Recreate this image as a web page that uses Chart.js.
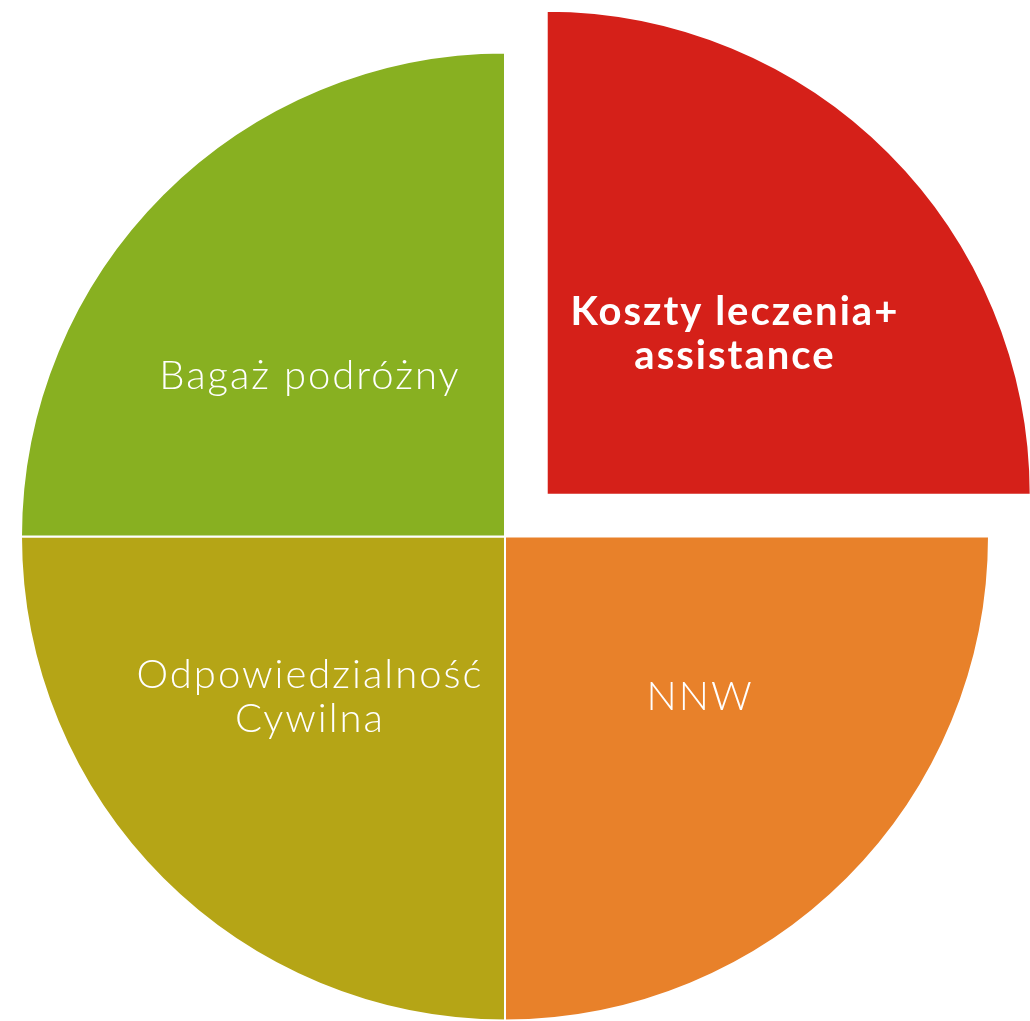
<!DOCTYPE html>
<html>
<head>
<meta charset="utf-8">
<script src="https://cdn.jsdelivr.net/npm/chart.js@4/dist/chart.umd.min.js"></script>
<style>
    html, body { margin: 0; padding: 0; background: #ffffff; }
    canvas { display: block; }
</style>
</head>
<body>
<canvas id="pieChart" width="1030" height="1021"></canvas>
<script>
// Pie data - four equal parts, first one pulled out
const categories = [['Koszty leczenia+', 'assistance'], ['NNW'], ['Odpowiedzialność', 'Cywilna'], ['Bagaż podróżny']];
const values = [25, 25, 25, 25];
const sliceColors = ['#D52019', '#E8812A', '#B5A516', '#88B021'];
const sliceOffsets = [236, 0, 0, 0];
const boldLabels = [true, false, false, false];

// Labels inside the slices
const sliceLabels = {
    id: 'sliceLabels',
    afterDatasetsDraw(chart) {
        const ctx = chart.ctx;
        const meta = chart.getDatasetMeta(0);
        meta.data.forEach((arc, i) => {
            const p = arc.getProps(['x', 'y', 'startAngle', 'endAngle', 'outerRadius']);
            const mid = (p.startAngle + p.endAngle) / 2;
            const shift = sliceOffsets[i] / 4;
            const cx = p.x + Math.cos(mid) * shift;
            const cy = p.y + Math.sin(mid) * shift;
            const lx = cx + Math.cos(mid) * p.outerRadius * (boldLabels[i] ? 0.55 : 0.57);
            const ly = cy + Math.sin(mid) * p.outerRadius * 0.47;
            const lines = categories[i];
            const lineHeight = 44;
            ctx.save();
            ctx.fillStyle = '#ffffff';
            ctx.textAlign = 'center';
            ctx.textBaseline = 'middle';
            ctx.font = boldLabels[i] ? 'bold 40px Lato' : '300 40px Lato';
            ctx.letterSpacing = '2px';
            lines.forEach((line, j) => {
                ctx.fillText(line, lx, ly + (j - (lines.length - 1) / 2) * lineHeight);
            });
            ctx.restore();
        });
    }
};

const ctx = document.getElementById('pieChart');
new Chart(ctx, {
    type: 'pie',
    data: {
        labels: categories.map(l => l.join(' ')),
        datasets: [{
            data: values,
            backgroundColor: sliceColors,
            offset: sliceOffsets,
            borderColor: '#ffffff',
            borderWidth: 2
        }]
    },
    options: {
        responsive: false,
        animation: false,
        events: [],
        radius: 484,
        layout: {
            padding: { left: 0, right: 20, top: 52, bottom: 0 }
        },
        plugins: {
            legend: { display: false },
            tooltip: { enabled: false }
        }
    },
    plugins: [sliceLabels]
});
</script>
</body>
</html>
